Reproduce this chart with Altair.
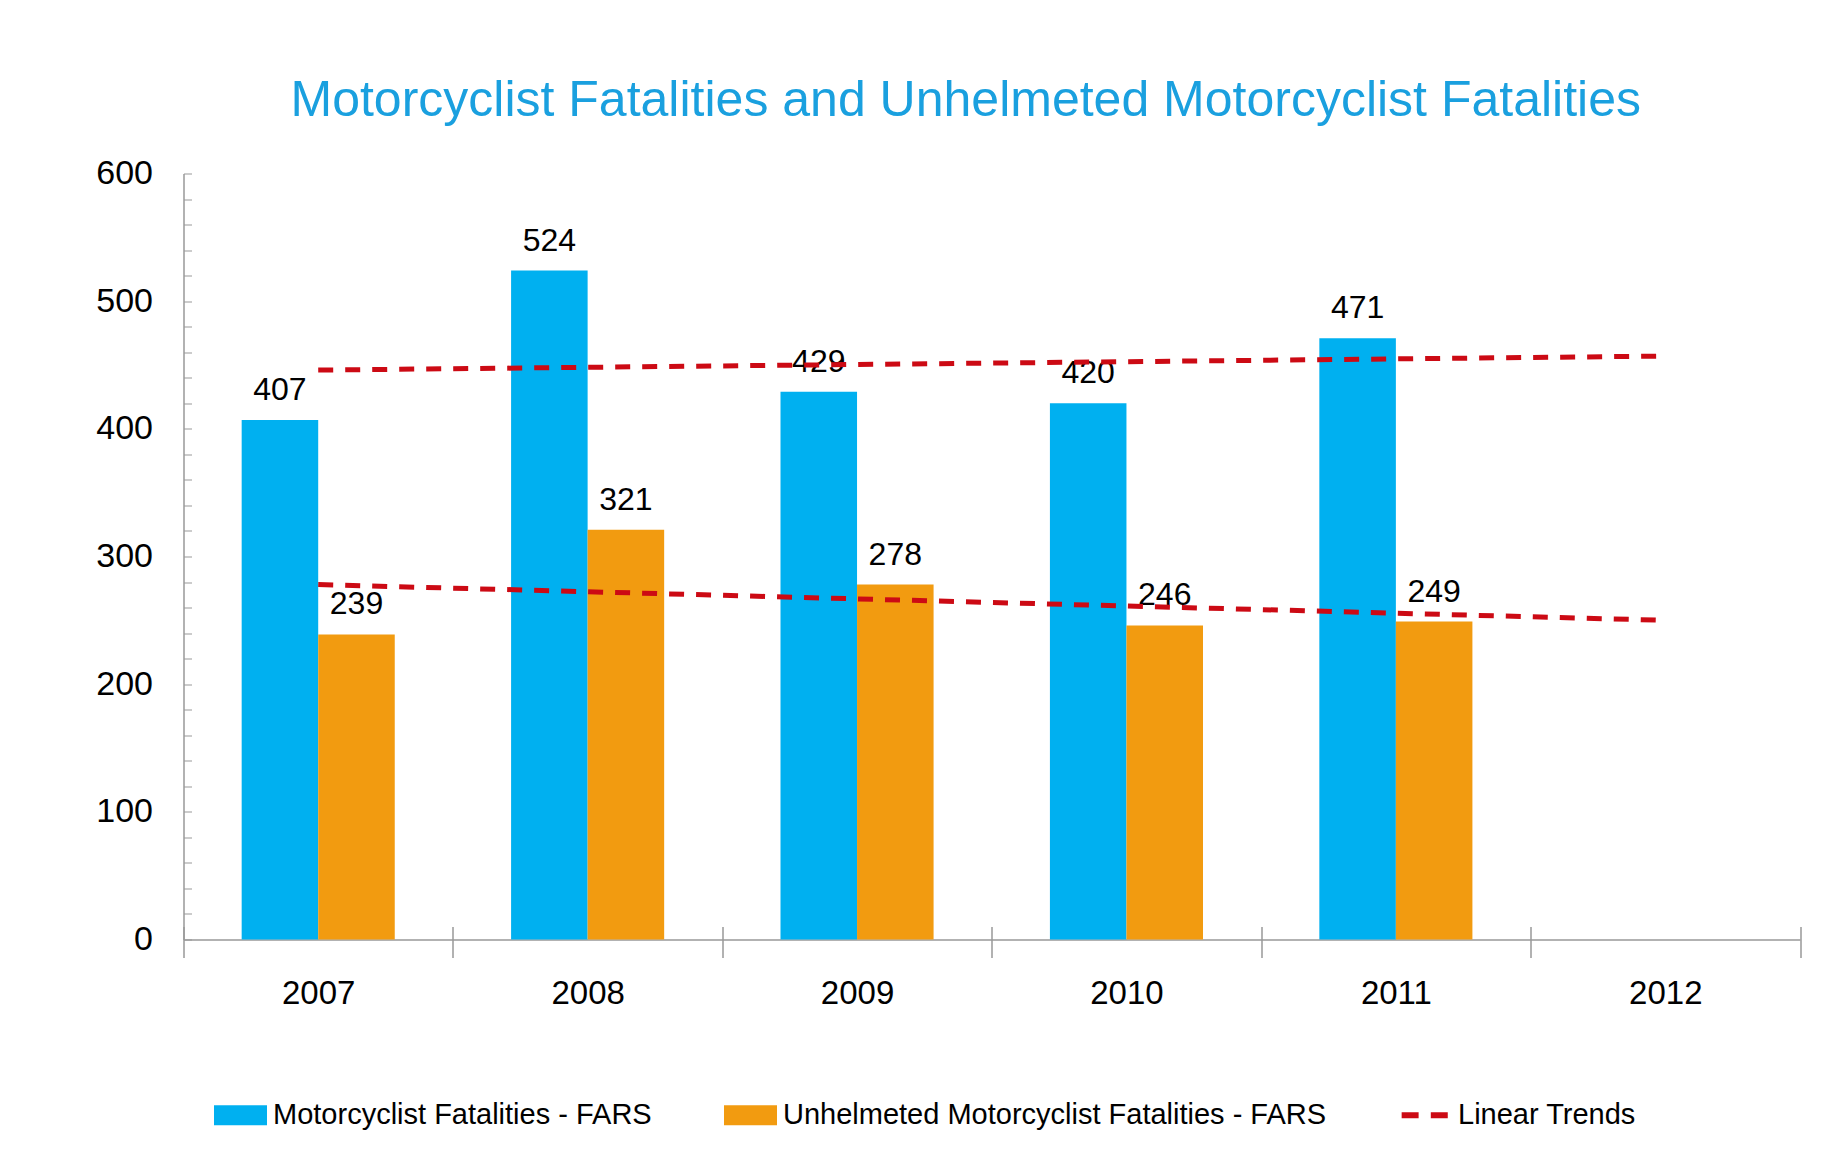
import altair as alt
import pandas as pd

years = ["2007", "2008", "2009", "2010", "2011", "2012"]
bar_years = ["2007", "2008", "2009", "2010", "2011"]
all_fatal = [407, 524, 429, 420, 471]
unhelmeted = [239, 321, 278, 246, 249]
trend_years = ["2007", "2012"]
trend_all = [446, 457]
trend_unhelmeted = [278, 250]

S1 = "Motorcyclist Fatalities - FARS"
S2 = "Unhelmeted Motorcyclist Fatalities - FARS"
S3 = "Linear Trends"
series = [S1, S2, S3]

BLUE = "#00b0f0"
ORANGE = "#f29b10"
RED = "#cc0a14"
TITLE_C = "#1aa0df"
FONT = "Liberation Sans, Arial, sans-serif"

rows = []
for y, a, u in zip(bar_years, all_fatal, unhelmeted):
    rows.append({"year": y, "series": S1, "value": a})
    rows.append({"year": y, "series": S2, "value": u})
bars_df = pd.DataFrame(rows)

trows = []
for y, a, u in zip(trend_years, trend_all, trend_unhelmeted):
    trows.append({"year": y, "trend": "all", "value": a})
    trows.append({"year": y, "trend": "unhelmeted", "value": u})
trend_df = pd.DataFrame(trows)

legend_df = pd.DataFrame({"series": series})

W = 1616.5
H = 766

x_scale = alt.Scale(type="band", domain=years, paddingInner=0, paddingOuter=0)
y_scale = alt.Scale(domain=[0, 600], nice=False, zero=True)
off_scale = alt.Scale(domain=[S1, S2], paddingInner=0, paddingOuter=0.76)

x_axis = alt.Axis(
    title=None, labelAngle=0, tickBand="extent", ticks=True, tickSize=18,
    labelPadding=20, labelFontSize=33, labelFont=FONT, labelColor="#000",
    domainColor="#999", domainWidth=1.5, tickColor="#999", tickWidth=1.5, grid=False,
)
x_up_axis = alt.Axis(
    title=None, orient="top", offset=-H, tickBand="extent", ticks=True, tickSize=13,
    labels=False, domain=False, tickColor="#999", tickWidth=1.5, grid=False,
)
y_axis = alt.Axis(
    title=None, values=[0, 100, 200, 300, 400, 500, 600], ticks=False,
    labelPadding=31, labelFontSize=34, labelFont=FONT, labelColor="#000",
    domainColor="#999", domainWidth=1.5, grid=False,
)
y_minor_axis = alt.Axis(
    title=None, orient="right", offset=-W, values=list(range(0, 601, 20)),
    labels=False, domain=False, ticks=True, tickSize=8, tickColor="#999",
    tickWidth=1, grid=False,
)

bars = alt.Chart(bars_df).mark_bar().encode(
    x=alt.X("year:O", scale=x_scale, axis=x_axis, sort=years),
    xOffset=alt.XOffset("series:N", scale=off_scale, sort=[S1, S2]),
    y=alt.Y("value:Q", scale=y_scale, axis=y_axis),
    color=alt.Color("series:N", scale=alt.Scale(domain=[S1, S2], range=[BLUE, ORANGE]), legend=None),
)

labels = alt.Chart(bars_df).mark_text(
    dy=-20, baseline="alphabetic", align="center", fontSize=32, font=FONT, color="#000"
).encode(
    x=alt.X("year:O", scale=x_scale, sort=years, axis=x_up_axis),
    xOffset=alt.XOffset("series:N", scale=off_scale, sort=[S1, S2]),
    y=alt.Y("value:Q", scale=y_scale, axis=y_minor_axis),
    text=alt.Text("value:Q"),
)

trend = alt.Chart(trend_df).mark_line(
    color=RED, strokeWidth=5, strokeDash=[15, 12]
).encode(
    x=alt.X("year:O", scale=x_scale, sort=years, bandPosition=0.5, axis=None),
    y=alt.Y("value:Q", scale=y_scale, axis=None),
    detail="trend:N",
)

leg = alt.Legend(
    title=None, orient="none", legendX=30.5, legendY=915, direction="horizontal",
    labelFont=FONT, labelFontSize=29, labelColor="#000", symbolSize=2809,
    symbolStrokeWidth=0, symbolOpacity=1, labelOffset=6, columnPadding=72,
    padding=0, labelLimit=1000,
)
rect_path = "M-1,-0.377H1V0.377H-1Z"
dash_path = "M-0.9,-0.11H-0.26V0.11H-0.9Z M0.2,-0.11H0.84V0.11H0.2Z"
legend_layer = alt.Chart(legend_df).mark_point(filled=True, opacity=1).encode(
    fill=alt.Fill("series:N", scale=alt.Scale(domain=series, range=[BLUE, ORANGE, RED]), legend=leg, sort=series),
    shape=alt.Shape("series:N", scale=alt.Scale(domain=series, range=[rect_path, rect_path, dash_path]), legend=leg, sort=series),
).transform_filter("false")

chart = alt.layer(bars, labels, trend, legend_layer).resolve_axis(
    x="independent", y="independent"
).properties(
    width=W, height=H,
    autosize=alt.AutoSizeParams(type="none"),
    padding={"left": 175.5, "top": 165.5, "right": 18, "bottom": 200},
    title=alt.TitleParams(
        "Motorcyclist Fatalities and Unhelmeted Motorcyclist Fatalities",
        fontSize=50, font=FONT, color=TITLE_C, fontWeight="normal",
        anchor="middle", dx=-26, offset=-9, baseline="alphabetic",
    ),
).configure_view(stroke=None)

chart.save("out.html", embed_options={"renderer": "svg", "actions": False})
